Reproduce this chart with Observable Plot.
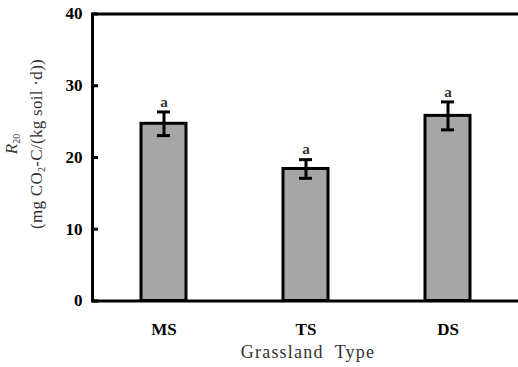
<!DOCTYPE html>
<html>
<head>
<meta charset="utf-8">
<script src="https://cdn.jsdelivr.net/npm/d3@7"></script>
<script src="https://cdn.jsdelivr.net/npm/@observablehq/plot@0.6"></script>
<style>
  html, body { margin: 0; padding: 0; background: #fff; }
  #chart { width: 518px; height: 367px; }
</style>
</head>
<body>
<div id="chart"></div>
<script>
// Grassland types and mean basal respiration R20 with standard error
const types = ["MS", "TS", "DS"];
const r20 = [24.7, 18.4, 25.8];
const se = [1.65, 1.3, 1.95];
const letters = ["a", "a", "a"];
const yTicks = [0, 10, 20, 30, 40];

const rows = types.map((t, i) => ({type: t, value: r20[i], se: se[i], lo: r20[i] - se[i], hi: r20[i] + se[i], letter: letters[i]}));

const serif = "'Liberation Serif', 'Times New Roman', serif";

const chart = Plot.plot({
  width: 518,
  height: 367,
  marginLeft: 92,
  marginRight: -2,
  marginTop: 13.5,
  marginBottom: 66.5,
  style: {fontFamily: serif, background: "#fff", color: "#000"},
  x: {domain: types, paddingInner: 0.68, paddingOuter: 0.34, label: null},
  y: {domain: [0, 40], label: null},
  marks: [
    Plot.barY(rows, {x: "type", y: "value", fill: "#a6a6a6", stroke: "#000", strokeWidth: 3}),
    Plot.ruleX(rows, {x: "type", y1: "lo", y2: "hi", stroke: "#000", strokeWidth: 3}),
    Plot.tickY(rows, {x: "type", y: "hi", stroke: "#000", strokeWidth: 3, insetLeft: 16, insetRight: 16}),
    Plot.tickY(rows, {x: "type", y: "lo", stroke: "#000", strokeWidth: 3, insetLeft: 16, insetRight: 16}),
    Plot.text(rows, {x: "type", y: "hi", text: "letter", dy: -10, fontSize: 15, fontWeight: "bold", fill: "#333"}),
    // inward ticks on the y axis
    Plot.tickY(yTicks, {y: d => d, stroke: "#000", strokeWidth: 3, insetRight: 422}),
    Plot.axisY(yTicks, {tickSize: 0, tickPadding: 10, fontSize: 17, fontWeight: "bold", fill: "#000"}),
    Plot.axisX({tickSize: 0, tickPadding: 22, fontSize: 17, fontWeight: "bold", fill: "#000"}),
    Plot.frame({stroke: "#000", strokeWidth: 3})
  ]
});
document.getElementById("chart").appendChild(chart);

// Axis titles with subscripts
const svg = d3.select(chart);
svg.append("text")
  .attr("x", 308).attr("y", 358)
  .attr("text-anchor", "middle")
  .attr("font-family", serif).attr("font-size", 18)
  .attr("letter-spacing", 1.2).attr("fill", "#333")
  .attr("xml:space", "preserve")
  .text("Grassland  Type");

const yTitle = svg.append("g")
  .attr("transform", "translate(0,144) rotate(-90)")
  .attr("font-family", serif).attr("font-size", 17).attr("fill", "#333")
  .attr("text-anchor", "middle");
const l1 = yTitle.append("text").attr("x", 0).attr("y", 17);
l1.append("tspan").attr("font-style", "italic").text("R");
l1.append("tspan").attr("font-size", 10).attr("dy", 3).text("20");
const l2 = yTitle.append("text").attr("x", 0).attr("y", 42).attr("letter-spacing", 0.3)
  .attr("xml:space", "preserve");
l2.append("tspan").text("(mg CO");
l2.append("tspan").attr("font-size", 10).attr("dy", 3).text("2");
l2.append("tspan").attr("dy", -3).text("-C/(kg soil \u00b7d))");
</script>
</body>
</html>
